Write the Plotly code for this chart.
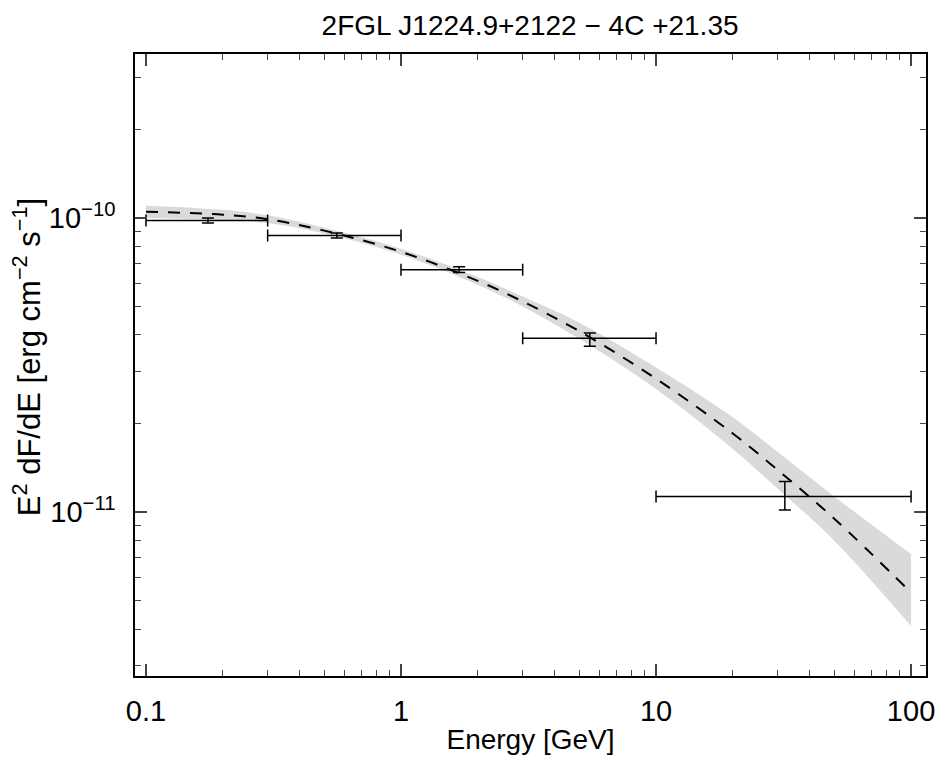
import plotly.graph_objects as go

# --- data ---
energy_center = [0.175, 0.56, 1.69, 5.5, 32.0]
energy_low = [0.1, 0.3, 1.0, 3.0, 10.0]
energy_high = [0.3, 1.0, 3.0, 10.0, 100.0]
flux = [9.8e-11, 8.71e-11, 6.67e-11, 3.90e-11, 1.13e-11]
flux_up = [1.00e-10, 8.88e-11, 6.82e-11, 4.06e-11, 1.27e-11]
flux_dn = [9.6e-11, 8.54e-11, 6.52e-11, 3.66e-11, 1.016e-11]

model_e = [0.1, 0.2, 0.3, 0.5, 1, 2, 3, 5, 10, 20, 30, 50, 100]
model_f = [1.05e-10, 1.025e-10, 9.9e-11, 9.05e-11, 7.67e-11, 6.11e-11, 5.2e-11,
           4.12e-11, 2.84e-11, 1.85e-11, 1.39e-11, 9.5e-12, 5.33e-12]
band_hi = [1.10e-10, 1.065e-10, 1.02e-10, 9.25e-11, 7.85e-11, 6.3e-11, 5.4e-11,
           4.4e-11, 3.1e-11, 2.1e-11, 1.6e-11, 1.13e-11, 7.2e-12]
band_lo = [1.00e-10, 9.85e-11, 9.6e-11, 8.85e-11, 7.5e-11, 5.93e-11, 5.0e-11,
           3.88e-11, 2.62e-11, 1.64e-11, 1.2e-11, 8.0e-12, 4.1e-12]

x_ticks = [0.1, 1, 10, 100]
x_ticktext = ["0.1", "1", "10", "100"]
y_ticks = [1e-11, 1e-10]
y_ticktext = ["10<sup>−11</sup>", "10<sup>−10</sup>"]

FONT = "Liberation Sans, Arial, sans-serif"

fig = go.Figure()
fig.add_trace(go.Scatter(x=model_e, y=band_lo, mode="lines", line=dict(width=0, shape="spline"),
                         hoverinfo="skip", showlegend=False))
fig.add_trace(go.Scatter(x=model_e, y=band_hi, mode="lines", line=dict(width=0, shape="spline"),
                         fill="tonexty", fillcolor="#dadada", hoverinfo="skip", showlegend=False))
fig.add_trace(go.Scatter(x=model_e, y=model_f, mode="lines",
                         line=dict(color="black", width=2, dash="12px,10px", shape="spline"),
                         showlegend=False))

ex_plus = [h - c for h, c in zip(energy_high, energy_center)]
ex_minus = [c - l for l, c in zip(energy_low, energy_center)]
ey_plus = [u - f for u, f in zip(flux_up, flux)]
ey_minus = [f - d for d, f in zip(flux_dn, flux)]

fig.add_trace(go.Scatter(
    x=energy_center, y=flux, mode="markers",
    marker=dict(size=1, color="black"),
    error_x=dict(type="data", array=ex_plus, arrayminus=ex_minus, color="black",
                 thickness=1.5, width=6),
    error_y=dict(type="data", array=ey_plus, arrayminus=ey_minus, color="black",
                 thickness=1.5, width=6),
    showlegend=False))

minor_x = [v * m for v in (0.1, 1, 10) for m in range(2, 10)]
minor_y = [v * m for v in (1e-12, 1e-11, 1e-10) for m in range(2, 10)]

fig.update_layout(
    width=939, height=754,
    margin=dict(l=127, r=18, t=46, b=82),
    paper_bgcolor="white", plot_bgcolor="white",
    font=dict(family=FONT, color="black", size=28),
    title=dict(text="2FGL J1224.9+2122 − 4C +21.35", x=0.556, xanchor="center",
               y=0.977, yanchor="middle", font=dict(size=28, family=FONT)),
    annotations=[dict(
        text="E<sup>2</sup> dF/dE [erg cm<sup>−2</sup> s<sup>−1</sup>]",
        xref="paper", yref="paper", x=-0.137, y=0.512, xanchor="center", yanchor="middle",
        textangle=-90, showarrow=False, font=dict(size=31, family=FONT, color="black"))],
)
fig.update_xaxes(
    type="log", range=[-1.043, 2.0586],
    tickvals=x_ticks, ticktext=x_ticktext, ticks="inside", ticklen=12, tickwidth=1.5,
    minor=dict(tickvals=minor_x, ticks="inside", ticklen=6, tickwidth=1, showgrid=False),
    showline=True, linecolor="black", linewidth=1.5, mirror="allticks",
    showgrid=False, zeroline=False, tickfont=dict(size=29),
    ticklabelstandoff=8,
    title=dict(text="Energy [GeV]", font=dict(size=28), standoff=4),
)
fig.update_yaxes(
    type="log", range=[-11.557, -9.443],
    tickvals=y_ticks, ticktext=y_ticktext, ticks="inside", ticklen=12, tickwidth=1.5,
    minor=dict(tickvals=minor_y, ticks="inside", ticklen=6, tickwidth=1, showgrid=False),
    showline=True, linecolor="black", linewidth=1.5, mirror="allticks",
    showgrid=False, zeroline=False, tickfont=dict(size=29),
    ticklabelstandoff=12,
)

fig.write_html("out.html")
